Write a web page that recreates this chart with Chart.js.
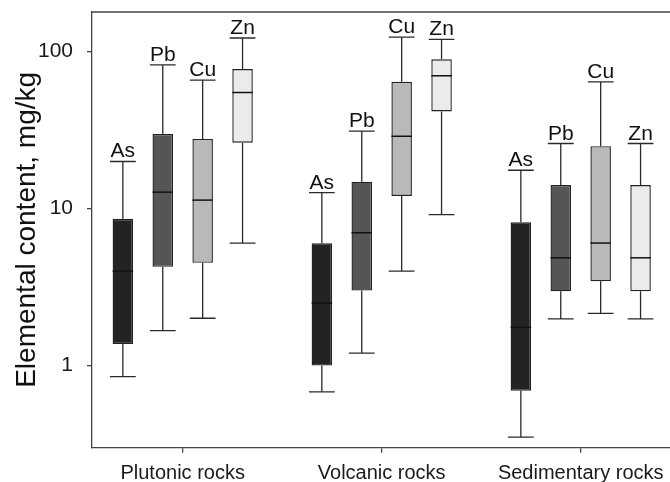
<!DOCTYPE html>
<html>
<head>
<meta charset="utf-8">
<script src="https://cdn.jsdelivr.net/npm/chart.js@4/dist/chart.umd.min.js"></script>
<style>
  body { margin: 0; background: #fff; overflow: hidden; }
</style>
</head>
<body>
<canvas id="boxChart" width="670" height="482"></canvas>
<script>
// Grupos de rocas y elementos
const groups = ['Plutonic rocks', 'Volcanic rocks', 'Sedimentary rocks'];
const elements = ['As', 'Pb', 'Cu', 'Zn'];

// [min, Q1, mediana, Q3, max] por grupo (mg/kg)
const asStats = [[0.85, 1.37, 3.99, 8.6, 19.9], [0.68, 1.0, 2.5, 6.0, 12.6], [0.35, 0.69, 1.75, 8.16, 17.5]];
const pbStats = [[1.67, 4.25, 12.7, 29.8, 82], [1.2, 3.0, 7.0, 14.8, 31.1], [1.98, 2.97, 4.85, 14.1, 25.9]];
const cuStats = [[2.0, 4.51, 11.3, 27.7, 65.6], [3.99, 12.0, 28.8, 64, 123], [2.15, 3.44, 6.02, 24.9, 64]];
const znStats = [[6.02, 26.2, 54.7, 77.1, 121.6], [9.14, 41.4, 69.9, 88.9, 119], [1.98, 2.97, 4.85, 14.1, 25.9]];
const yTicks = [1, 10, 100];

const allStats = [asStats, pbStats, cuStats, znStats];
const fills = ['#232323', '#555555', '#b9b9b9', '#ebebeb'];
const FONT = '"Liberation Sans", Arial, sans-serif';

const datasets = elements.map((el, d) => ({
    label: el,
    data: allStats[d].map((s, i) => ({ x: i + 1, y: [s[1], s[3]] })),
    stats: allStats[d],
    backgroundColor: fills[d],
    borderColor: '#222',
    borderWidth: 1.4,
    borderSkipped: false,
    categoryPercentage: 0.802,
    barPercentage: 0.514
}));

// Bigotes, medianas, etiquetas y linea superior del marco
const boxExtras = {
    id: 'boxExtras',
    afterDatasetsDraw(chart) {
        const ctx = chart.ctx;
        const y = chart.scales.y;
        const area = chart.chartArea;
        ctx.save();
        chart.data.datasets.forEach((ds, d) => {
            const meta = chart.getDatasetMeta(d);
            meta.data.forEach((bar, i) => {
                const s = ds.stats[i];
                const x = bar.x, half = bar.width / 2, cap = 12.9;
                const pMin = y.getPixelForValue(s[0]);
                const pQ1 = y.getPixelForValue(s[1]);
                const pMed = y.getPixelForValue(s[2]);
                const pQ3 = y.getPixelForValue(s[3]);
                const pMax = y.getPixelForValue(s[4]);
                ctx.strokeStyle = '#2a2a2a';
                ctx.lineWidth = 1.3;
                ctx.beginPath();
                ctx.moveTo(x, pQ3); ctx.lineTo(x, pMax);
                ctx.moveTo(x, pQ1); ctx.lineTo(x, pMin);
                ctx.moveTo(x - cap, pMax); ctx.lineTo(x + cap, pMax);
                ctx.moveTo(x - cap, pMin); ctx.lineTo(x + cap, pMin);
                ctx.stroke();
                ctx.strokeStyle = '#111';
                ctx.lineWidth = 1.5;
                ctx.beginPath();
                ctx.moveTo(x - half, pMed); ctx.lineTo(x + half, pMed);
                ctx.stroke();
                ctx.fillStyle = '#111';
                ctx.font = '21px ' + FONT;
                ctx.textAlign = 'center';
                ctx.textBaseline = 'alphabetic';
                ctx.fillText(ds.label, x, pMax - 4);
            });
        });
        ctx.strokeStyle = '#444';
        ctx.lineWidth = 1.3;
        ctx.beginPath();
        ctx.moveTo(area.left, area.top);
        ctx.lineTo(area.right, area.top);
        ctx.stroke();
        ctx.restore();
    }
};

new Chart(document.getElementById('boxChart'), {
    type: 'bar',
    data: { datasets: datasets },
    plugins: [boxExtras],
    options: {
        responsive: false,
        devicePixelRatio: 1,
        animation: false,
        layout: { padding: { top: 12, left: 0, right: 0, bottom: 0 } },
        plugins: { legend: { display: false }, tooltip: { enabled: false } },
        scales: {
            x: {
                type: 'linear',
                min: 0.5442,
                max: 3.4487,
                offset: false,
                afterBuildTicks: scale => { scale.ticks = groups.map((g, i) => ({ value: i + 1 })); },
                afterFit: scale => {
                    scale.height = 34.3;
                    scale.paddingLeft = 0;
                    scale.paddingRight = 0;
                },
                grid: { drawOnChartArea: false, offset: false, tickLength: 5, color: '#444', lineWidth: 1.3 },
                border: { color: '#444', width: 1.3 },
                ticks: {
                    autoSkip: false,
                    maxRotation: 0,
                    padding: 9,
                    color: '#1a1a1a',
                    font: { family: FONT, size: 20 },
                    callback: value => groups[value - 1] || ''
                }
            },
            y: {
                type: 'logarithmic',
                min: 0.3,
                max: 178,
                afterBuildTicks: scale => { scale.ticks = yTicks.map(v => ({ value: v })); },
                afterFit: scale => {
                    scale.width = 92;
                    scale.paddingTop = 0;
                    scale.paddingBottom = 0;
                },
                grid: { drawOnChartArea: false, tickLength: 5, color: '#444', lineWidth: 1.3 },
                border: { color: '#444', width: 1.3 },
                ticks: {
                    padding: 14,
                    color: '#1a1a1a',
                    font: { family: FONT, size: 21 },
                    callback: value => String(value)
                },
                title: {
                    display: true,
                    text: 'Elemental content, mg/kg',
                    color: '#111',
                    font: { family: FONT, size: 28 },
                    padding: { top: 10, bottom: 0 }
                }
            }
        }
    }
});
</script>
</body>
</html>
